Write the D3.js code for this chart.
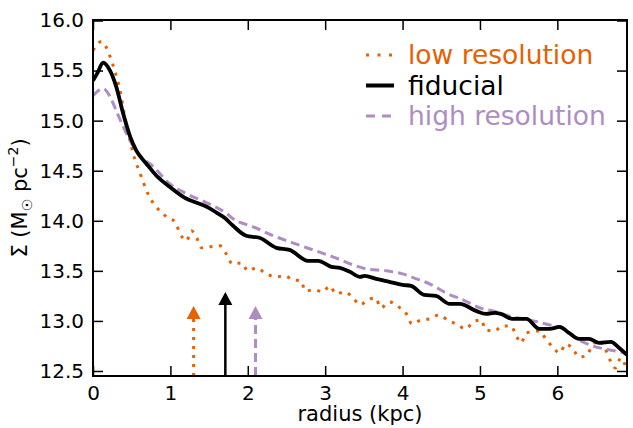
<!DOCTYPE html>
<html>
<head>
<meta charset="utf-8">
<script src="https://cdn.jsdelivr.net/npm/d3@7"></script>
<style>
  body { margin: 0; background: #fff; }
  text { font-family: "DejaVu Sans", sans-serif; }
</style>
</head>
<body>
<div id="wrapper"></div>
<script>
// data
const lowR = [0, 0.11, 0.22, 0.28, 0.35, 0.41, 0.48, 0.52, 0.61, 0.71, 0.86, 0.95, 1.06, 1.12, 1.21, 1.27, 1.34, 1.40, 1.51, 1.64, 1.73, 1.80, 1.92, 2.00, 2.11, 2.24, 2.36, 2.48, 2.58, 2.69, 2.74, 2.86, 2.97, 3.06, 3.14, 3.25, 3.36, 3.45, 3.55, 3.65, 3.72, 3.83, 3.95, 4.05, 4.12, 4.24, 4.35, 4.47, 4.58, 4.69, 4.82, 4.91, 5.02, 5.07, 5.19, 5.29, 5.40, 5.47, 5.53, 5.60, 5.77, 5.85, 5.94, 6.03, 6.11, 6.20, 6.28, 6.37, 6.45, 6.54, 6.62, 6.68, 6.75, 6.82, 6.90]
const lowSigma = [15.70, 15.79, 15.64, 15.50, 15.30, 15.04, 14.80, 14.67, 14.47, 14.27, 14.10, 14.04, 13.99, 13.88, 13.80, 13.90, 13.83, 13.73, 13.74, 13.75, 13.66, 13.57, 13.58, 13.50, 13.53, 13.47, 13.44, 13.45, 13.41, 13.40, 13.30, 13.31, 13.29, 13.35, 13.27, 13.29, 13.23, 13.16, 13.21, 13.23, 13.13, 13.19, 13.14, 13.07, 12.97, 13.01, 13.02, 13.06, 13.01, 12.97, 12.92, 12.99, 13.01, 12.91, 12.90, 12.95, 12.95, 12.85, 12.78, 12.88, 12.90, 12.82, 12.74, 12.68, 12.77, 12.72, 12.64, 12.65, 12.75, 12.81, 12.72, 12.61, 12.53, 12.63, 12.50]

const fidR = [0, 0.06, 0.13, 0.22, 0.30, 0.39, 0.48, 0.56, 0.69, 0.82, 0.99, 1.21, 1.34, 1.47, 1.60, 1.70, 1.81, 1.98, 2.15, 2.37, 2.54, 2.78, 2.91, 3.08, 3.19, 3.32, 3.45, 3.51, 3.66, 3.83, 4.00, 4.11, 4.28, 4.43, 4.61, 4.74, 4.95, 5.08, 5.19, 5.27, 5.42, 5.60, 5.77, 5.90, 6.03, 6.15, 6.28, 6.41, 6.54, 6.69, 6.80, 6.90]
const fidSigma = [15.40, 15.48, 15.58, 15.50, 15.34, 15.07, 14.84, 14.70, 14.57, 14.45, 14.34, 14.22, 14.18, 14.14, 14.08, 14.03, 13.95, 13.85, 13.83, 13.73, 13.71, 13.60, 13.60, 13.54, 13.53, 13.49, 13.44, 13.45, 13.42, 13.39, 13.36, 13.35, 13.26, 13.25, 13.17, 13.17, 13.10, 13.07, 13.08, 13.07, 13.02, 13.02, 12.92, 12.92, 12.94, 12.88, 12.82, 12.82, 12.78, 12.79, 12.73, 12.66]

const highR = [0, 0.13, 0.22, 0.30, 0.39, 0.48, 0.61, 0.78, 0.99, 1.21, 1.47, 1.73, 1.81, 2.07, 2.33, 2.58, 2.84, 3.10, 3.36, 3.53, 3.79, 4.00, 4.18, 4.35, 4.56, 4.78, 5.04, 5.17, 5.42, 5.64, 5.85, 6.07, 6.28, 6.46, 6.68, 6.90]
const highSigma = [15.25, 15.32, 15.24, 15.10, 14.94, 14.80, 14.65, 14.54, 14.37, 14.27, 14.18, 14.07, 14.02, 13.94, 13.85, 13.78, 13.71, 13.64, 13.56, 13.52, 13.50, 13.47, 13.42, 13.37, 13.28, 13.21, 13.12, 13.10, 13.04, 13.01, 12.97, 12.92, 12.81, 12.75, 12.71, 12.68]

// vertical arrows (low, fiducial, high)
const arrowR = [1.30, 1.71, 2.10]
const arrowTip = [13.15, 13.29, 13.15]

const xTicks = [0, 1, 2, 3, 4, 5, 6]
const yTicks = [12.5, 13.0, 13.5, 14.0, 14.5, 15.0, 15.5, 16.0]
const seriesNames = ["low resolution", "fiducial", "high resolution"]

// 1. dimensions
let dimensions = {
    width: 633,
    height: 428,
    margin: { top: 20, right: 6, bottom: 52, left: 93 },
}
dimensions.boundedWidth = dimensions.width - dimensions.margin.left - dimensions.margin.right
dimensions.boundedHeight = dimensions.height - dimensions.margin.top - dimensions.margin.bottom

const styles = [
    { color: "#e66101", width: 3, dash: "3,6.5" },
    { color: "#000000", width: 3.8, dash: null },
    { color: "#af8dc3", width: 3, dash: "9,5" },
]

// 2. canvas
const wrapper = d3.select("#wrapper")
    .append("svg")
    .attr("width", dimensions.width)
    .attr("height", dimensions.height)

const bounds = wrapper.append("g")
    .attr("transform", `translate(${dimensions.margin.left},${dimensions.margin.top})`)

bounds.append("clipPath").attr("id", "clip")
    .append("rect")
    .attr("width", dimensions.boundedWidth)
    .attr("height", dimensions.boundedHeight)

// 3. scales
const xScale = d3.scaleLinear().domain([0, 6.9]).range([0, dimensions.boundedWidth])
const yScale = d3.scaleLinear().domain([12.45, 16.0]).range([dimensions.boundedHeight, 0.5])

// 4. lines
const lineGen = d3.line()
    .x(d => xScale(d[0]))
    .y(d => yScale(d[1]))
    .curve(d3.curveMonotoneX)

const series = [
    d3.zip(lowR, lowSigma),
    d3.zip(fidR, fidSigma),
    d3.zip(highR, highSigma),
]

const lines = bounds.append("g").attr("clip-path", "url(#clip)")
// low first, then high, fiducial on top
;[0, 2, 1].forEach(i => {
    lines.append("path")
        .attr("d", lineGen(series[i]))
        .attr("fill", "none")
        .attr("stroke", styles[i].color)
        .attr("stroke-width", styles[i].width)
        .attr("stroke-dasharray", styles[i].dash)
        .attr("stroke-linejoin", "round")
})

// arrows
arrowR.forEach((r, i) => {
    const x = xScale(r)
    const tip = yScale(arrowTip[i])
    const headH = 13, headW = 7
    lines.append("line")
        .attr("x1", x).attr("x2", x)
        .attr("y1", dimensions.boundedHeight)
        .attr("y2", tip + headH)
        .attr("stroke", styles[i].color)
        .attr("stroke-width", i == 1 ? 2.5 : 3)
        .attr("stroke-dasharray", i == 0 ? "3,6" : i == 2 ? "9,5" : null)
    lines.append("path")
        .attr("d", `M${x},${tip} L${x - headW},${tip + headH} L${x + headW},${tip + headH} Z`)
        .attr("fill", styles[i].color)
})

// 5. axes (ticks inside, on all four sides)
const xAxisBottom = d3.axisBottom(xScale).tickValues(xTicks).tickSizeInner(-10).tickSizeOuter(0).tickPadding(10).tickFormat(d3.format("d"))
const xAxisTop = d3.axisTop(xScale).tickValues(xTicks).tickSizeInner(-10).tickSizeOuter(0).tickFormat("")
const yAxisLeft = d3.axisLeft(yScale).tickValues(yTicks).tickSizeInner(-10).tickSizeOuter(0).tickPadding(9).tickFormat(d3.format(".1f"))
const yAxisRight = d3.axisRight(yScale).tickValues(yTicks).tickSizeInner(-10).tickSizeOuter(0).tickFormat("")

const axes = [
    bounds.append("g").attr("transform", `translate(0,${dimensions.boundedHeight})`).call(xAxisBottom),
    bounds.append("g").call(xAxisTop),
    bounds.append("g").call(yAxisLeft),
    bounds.append("g").attr("transform", `translate(${dimensions.boundedWidth},0)`).call(yAxisRight),
]
axes.forEach(a => {
    a.select(".domain").remove()
    a.selectAll(".tick line").attr("stroke", "#000").attr("stroke-width", 1.5)
    a.selectAll(".tick text")
        .attr("font-family", "DejaVu Sans")
        .attr("font-size", 20)
        .attr("fill", "#000")
})

// frame
bounds.append("rect")
    .attr("width", dimensions.boundedWidth)
    .attr("height", dimensions.boundedHeight)
    .attr("fill", "none")
    .attr("stroke", "#000")
    .attr("stroke-width", 2)

// axis labels
wrapper.append("text")
    .attr("x", dimensions.margin.left + dimensions.boundedWidth / 2)
    .attr("y", 421)
    .attr("text-anchor", "middle")
    .attr("font-size", 21)
    .text("radius (kpc)")

const yLabel = wrapper.append("text")
    .attr("transform", `translate(27,${dimensions.margin.top + dimensions.boundedHeight / 2}) rotate(-90)`)
    .attr("text-anchor", "middle")
    .attr("font-size", 21)
yLabel.append("tspan").text("Σ (M")
yLabel.append("tspan").attr("font-size", 14).attr("dy", 5).text("☉")
yLabel.append("tspan").attr("dy", -5).text(" pc")
yLabel.append("tspan").attr("font-size", 14).attr("dy", -9).text("−2")
yLabel.append("tspan").attr("dy", 9).text(")")

// legend
const legend = wrapper.append("g")
seriesNames.forEach((name, i) => {
    const base = 64 + i * 30.5
    legend.append("line")
        .attr("x1", 366).attr("x2", 394)
        .attr("y1", base - 9).attr("y2", base - 9)
        .attr("stroke", styles[i].color)
        .attr("stroke-width", i == 1 ? 4 : 3)
        .attr("stroke-dasharray", i == 0 ? "3,8.5" : i == 2 ? "9,7" : null)
    legend.append("text")
        .attr("x", 408)
        .attr("y", base)
        .attr("font-size", 26.5)
        .attr("fill", styles[i].color)
        .text(name)
})
</script>
</body>
</html>
